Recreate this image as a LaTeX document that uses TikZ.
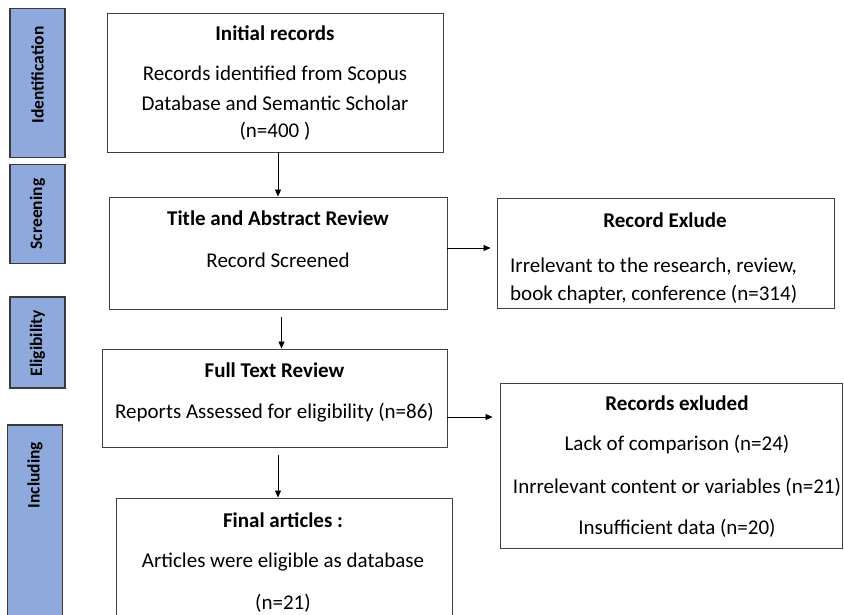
\documentclass[tikz,border=0pt]{standalone}
\usepackage{fontspec}
\setmainfont{Carlito}
\usetikzlibrary{arrows.meta,calc}
\definecolor{sidefill}{HTML}{8EA9DB}
\definecolor{sideborder}{HTML}{3A3A3A}
\definecolor{boxborder}{HTML}{404040}
\tikzset{
  sidebox/.style={draw=sideborder,line width=1.6pt,fill=sidefill,minimum width=55pt,inner sep=0pt},
  sidelabel/.style={rotate=90,font=\fontsize{17.5}{20}\selectfont\bfseries,inner sep=0pt},
  flowbox/.style={draw=boxborder,line width=0.9pt,fill=white,inner sep=0pt},
  title/.style={font=\fontsize{21}{24}\selectfont\bfseries,inner sep=0pt},
  body/.style={font=\fontsize{21}{24}\selectfont,inner sep=0pt},
  arr/.style={-{Triangle[length=7pt,width=6pt]},line width=0.8pt,black},
}
\begin{document}
\begin{tikzpicture}[x=1pt,y=-1pt]
\useasboundingbox (0,0) rectangle (844,614);
\clip (0,0) rectangle (844,614);
\fill[white] (0,0) rectangle (844,614);
% side labels
\node[sidebox,minimum height=149pt] (sid) at (37.5,83) {};
\node[sidelabel] (tid) at (37.5,75) {Identification};
\node[sidebox,minimum height=99pt] (ssc) at (37.5,214) {};
\node[sidelabel] (tsc) at (37.5,214) {Screening};
\node[sidebox,minimum height=91pt] (sel) at (37.5,342.5) {};
\node[sidelabel] (tel) at (37.5,343) {Eligibility};
\node[sidebox,minimum height=200pt] (sin) at (35,525) {};
\node[sidelabel] (tin) at (35,475) {Including};
% flow boxes
\node[flowbox,minimum width=336pt,minimum height=139pt] (b1) at (275,82.5) {};
\node[title] (b1t) at (275,33) {Initial records};
\node[body] (b1a) at (275,75) {Records identified from Scopus};
\node[body] (b1b) at (275,103) {Database and Semantic Scholar};
\node[body] (b1c) at (275,131) {(n=400 )};
\node[flowbox,minimum width=338pt,minimum height=112pt] (b2) at (278,253) {};
\node[title] (b2t) at (278,218) {Title and Abstract Review};
\node[body] (b2a) at (278,260) {Record Screened};
\node[flowbox,minimum width=337pt,minimum height=110pt] (b3) at (665.5,253) {};
\node[title] (b3t) at (665,220) {Record Exlude};
\node[body,anchor=west] (b3a) at (510,267) {Irrelevant to the research, review,};
\node[body,anchor=west] (b3b) at (510,295) {book chapter, conference (n=314)};
\node[flowbox,minimum width=345pt,minimum height=98pt] (b4) at (274.5,398) {};
\node[title] (b4t) at (274.5,370) {Full Text Review};
\node[body] (b4a) at (274.5,413) {Reports Assessed for eligibility (n=86)};
\node[flowbox,minimum width=336pt,minimum height=140pt] (b5) at (284,568) {};
\node[title] (b5t) at (283,520) {Final articles :};
\node[body] (b5a) at (283,562) {Articles were eligible as database};
\node[body] (b5b) at (283,603) {(n=21)};
\node[flowbox,minimum width=342pt,minimum height=165pt] (b6) at (671,465.5) {};
\node[title] (b6t) at (677,403) {Records exluded};
\node[body] (b6a) at (677,445) {Lack of comparison (n=24)};
\node[body] (b6b) at (677,487) {Inrrelevant content or variables (n=21)};
\node[body] (b6c) at (677,528) {Insufficient data (n=20)};
% connectors
\draw[arr] ([xshift=3pt]b1.south) -- ([xshift=3pt]b1.south |- b2.north);
\draw[arr,shorten >=6pt] ([yshift=5pt]b2.east) -- ([yshift=5pt]b2.east -| b3.west);
\draw[arr,shorten <=8pt] ([xshift=3.5pt]b2.south) -- ([xshift=3.5pt]b2.south |- b4.north);
\draw[arr,shorten >=7pt] ([yshift=-19pt]b4.east) -- ([yshift=-19pt]b4.east -| b6.west);
\draw[arr,shorten <=8pt] ([xshift=3.5pt]b4.south) -- ([xshift=3.5pt]b4.south |- b5.north);
\end{tikzpicture}
\end{document}
